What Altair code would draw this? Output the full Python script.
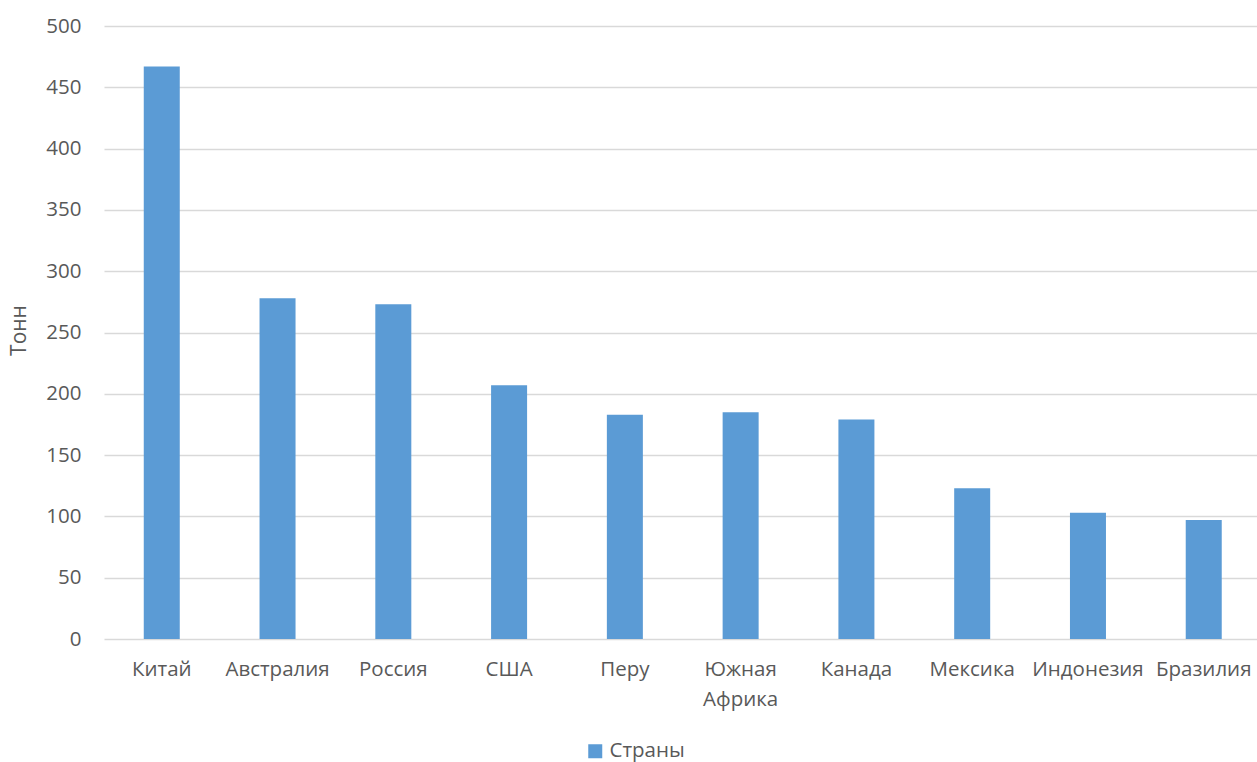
import altair as alt
import pandas as pd

countries = ["Китай", "Австралия", "Россия", "США", "Перу", "Южная Африка",
             "Канада", "Мексика", "Индонезия", "Бразилия"]
values = [467, 278, 273, 207, 183, 185, 179, 123, 103, 97]
series = "Страны"

df = pd.DataFrame({"country": countries, "value": values, "series": [series] * len(countries)})

FONT = "Open Sans"
GREY = "#595959"

chart = alt.Chart(df).mark_bar(color="#5b9bd5").encode(
    x=alt.X("country:N", sort=countries,
            scale=alt.Scale(paddingInner=0.689, paddingOuter=0.324, align=0.53),
            axis=alt.Axis(title=None, labelAngle=0, domain=False, ticks=False,
                          labelFont=FONT, labelFontSize=20.5, labelColor=GREY,
                          labelPadding=20, labelLineHeight=30,
                          labelExpr="split(datum.label, ' ')")),
    y=alt.Y("value:Q", scale=alt.Scale(domain=[0, 500]),
            axis=alt.Axis(title="Тонн", values=list(range(0, 501, 50)),
                          domain=False, ticks=False, grid=True,
                          gridColor="#d9d9d9", gridWidth=1.5,
                          labelFont=FONT, labelFontSize=20.5, labelColor=GREY,
                          labelPadding=23,
                          titleFont=FONT, titleFontSize=21, titleColor=GREY,
                          titleFontWeight="normal", titleAngle=270,
                          titleX=-85, titleY=304, titleAlign="center",
                          titleBaseline="middle")),
    color=alt.Color("series:N", scale=alt.Scale(range=["#5b9bd5"]),
                    legend=alt.Legend(title=None, orient="none",
                                      legendX=481, legendY=715,
                                      symbolType="square", symbolSize=196,
                                      symbolStrokeWidth=0,
                                      labelFont=FONT, labelFontSize=20.5,
                                      labelColor=GREY, labelOffset=4)),
).properties(
    width=1153, height=613,
    autosize=alt.AutoSizeParams(type="none"),
    padding={"left": 104, "top": 26, "right": 0, "bottom": 123},
).configure_view(stroke=None)

chart.save("out.html", embed_options={"renderer": "svg", "actions": False})
